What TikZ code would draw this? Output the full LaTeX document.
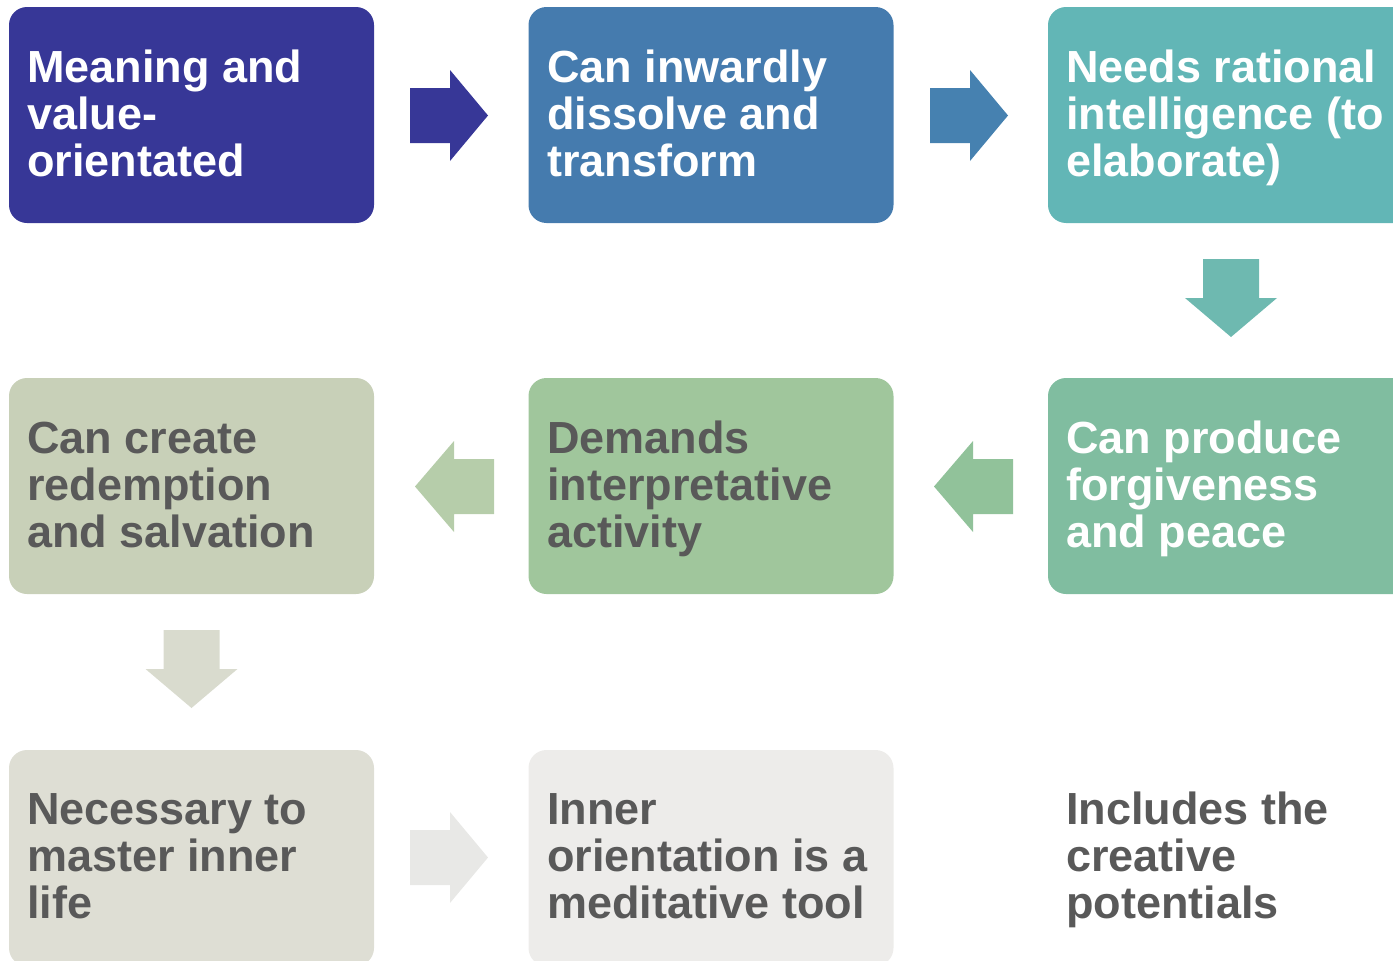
\documentclass[tikz,border=0pt]{standalone}
\usepackage{fontspec}
\setmainfont{Liberation Sans}
\definecolor{cA}{HTML}{373797}
\definecolor{cB}{HTML}{457BAE}
\definecolor{cC}{HTML}{62B6B6}
\definecolor{cD}{HTML}{80BDA0}
\definecolor{cE}{HTML}{A0C69C}
\definecolor{cF}{HTML}{C8D0B8}
\definecolor{cG}{HTML}{DEDED4}
\definecolor{cH}{HTML}{EDECEA}
\definecolor{aA}{HTML}{373797}
\definecolor{aB}{HTML}{4681B0}
\definecolor{aC}{HTML}{6EB9B0}
\definecolor{aD}{HTML}{91C29A}
\definecolor{aE}{HTML}{B6CDAA}
\definecolor{aF}{HTML}{D9DBCE}
\definecolor{aG}{HTML}{E8E8E6}
\definecolor{txtgray}{HTML}{595959}
\tikzset{
  box/.style={draw=none, rounded corners=18pt, minimum width=365pt, minimum height=216pt, inner sep=0pt},
  lbl/.style={anchor=base west, inner sep=0pt, font=\bfseries\fontsize{45}{47}\selectfont},
}
\newcommand{\rarr}[3]{% x, center y, color
  \fill[#3] (#1,#2-27.5) -- (#1+40,#2-27.5) -- (#1+40,#2-45.5) -- (#1+78,#2) -- (#1+40,#2+45.5) -- (#1+40,#2+27.5) -- (#1,#2+27.5) -- cycle;}
\newcommand{\larr}[3]{% tip x, center y, color
  \fill[#3] (#1,#2) -- (#1+39,#2-45.5) -- (#1+39,#2-27.5) -- (#1+79,#2-27.5) -- (#1+79,#2+27.5) -- (#1+39,#2+27.5) -- (#1+39,#2+45.5) -- cycle;}
\newcommand{\darr}[3]{% center x, top y, color
  \fill[#3] (#1-28,#2) -- (#1+28,#2) -- (#1+28,#2+39) -- (#1+46,#2+39) -- (#1,#2+78) -- (#1-46,#2+39) -- (#1-28,#2+39) -- cycle;}
\begin{document}
\begin{tikzpicture}[x=1pt,y=-1pt]
\useasboundingbox (0,0) rectangle (1393,961);
\clip (0,0) rectangle (1393,961);
% boxes
\node[box, fill=cA] (b1) at (191.5,115) {};
\node[box, fill=cB] (b2) at (711,115) {};
\node[box, fill=cC] (b3) at (1230.5,115) {};
\node[box, fill=cD] (b4) at (1230.5,486) {};
\node[box, fill=cE] (b5) at (711,486) {};
\node[box, fill=cF] (b6) at (191.5,486) {};
\node[box, fill=cG] (b7) at (191.5,858) {};
\node[box, fill=cH] (b8) at (711,858) {};
% arrows
\rarr{410}{115.5}{aA}
\rarr{930}{115.5}{aB}
\darr{1231}{259}{aC}
\larr{934}{486.5}{aD}
\larr{415}{486.5}{aE}
\darr{191.5}{630}{aF}
\rarr{410}{857.5}{aG}
% labels
\node[lbl, text=white] (t1) at (27,82) {\parbox[t]{360pt}{\raggedright Meaning and\\value-\\orientated}};
\node[lbl, text=white] (t2) at (547,82) {\parbox[t]{360pt}{\raggedright Can inwardly\\dissolve and\\transform}};
\node[lbl, text=white] (t3) at (1066,82) {\parbox[t]{360pt}{\raggedright Needs rational\\intelligence (to\\elaborate)}};
\node[lbl, text=white] (t4) at (1066,453) {\parbox[t]{360pt}{\raggedright Can produce\\forgiveness\\and peace}};
\node[lbl, text=txtgray] (t5) at (547,453) {\parbox[t]{360pt}{\raggedright Demands\\interpretative\\activity}};
\node[lbl, text=txtgray] (t6) at (27,453) {\parbox[t]{360pt}{\raggedright Can create\\redemption\\and salvation}};
\node[lbl, text=txtgray] (t7) at (27,824) {\parbox[t]{360pt}{\raggedright Necessary to\\master inner\\life}};
\node[lbl, text=txtgray] (t8) at (547,824) {\parbox[t]{360pt}{\raggedright Inner\\orientation is a\\meditative tool}};
\node[lbl, text=txtgray] (t9) at (1066,824) {\parbox[t]{360pt}{\raggedright Includes the\\creative\\potentials}};
\end{tikzpicture}
\end{document}
